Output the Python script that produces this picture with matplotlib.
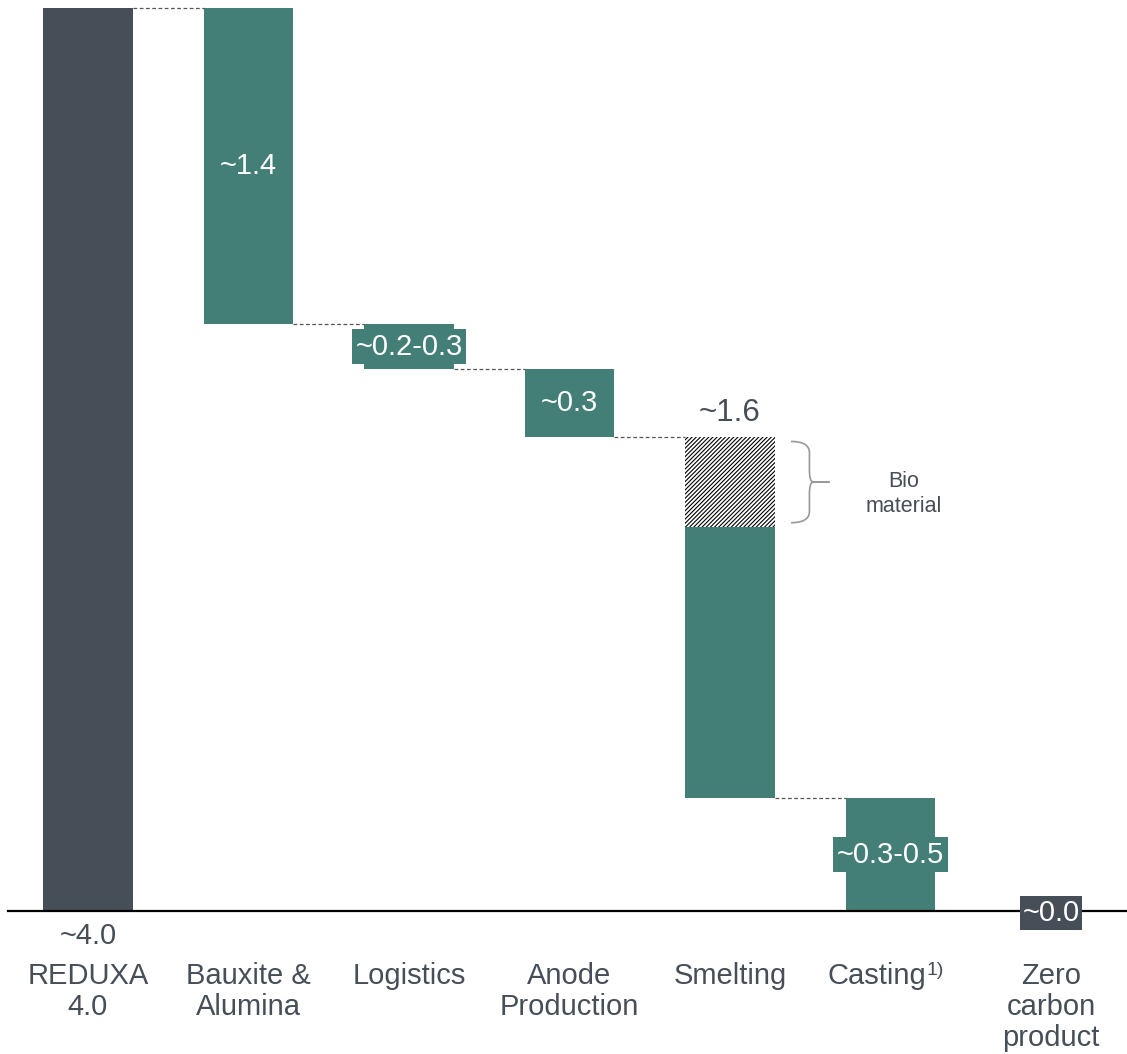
import matplotlib
matplotlib.use("Agg")
import matplotlib.pyplot as plt
from matplotlib.path import Path
from matplotlib.patches import PathPatch

plt.rcParams['font.family'] = ['Liberation Sans', 'DejaVu Sans']
plt.rcParams['hatch.linewidth'] = 0.8

# Waterfall data: start total, reductions per step, end total
categories = ["REDUXA\n4.0", "Bauxite &\nAlumina", "Logistics", "Anode\nProduction",
              "Smelting", "Casting", "Zero\ncarbon\nproduct"]
footnotes = ["", "", "", "", "", "1)", ""]
start_total = 4.0
steps = [1.4, 0.2, 0.3, 1.6, 0.5]
bio_part = 0.4          # hatched share of the smelting step
end_total = 0.0
value_labels = ["~4.0", "~1.4", "~0.2-0.3", "~0.3", "~1.6", "~0.3-0.5", "~0.0"]

DARK = "#464e57"
TEAL = "#437f77"
TEXT = "#464e57"

W, H, DPI = 1127, 1054, 100
fig = plt.figure(figsize=(W / DPI, H / DPI), dpi=DPI)
ax = fig.add_axes([0, 0, 1, 1])
ax.set_axis_off()

step_px = 160.5
x0_px = 88
ax.set_xlim(-x0_px / step_px, (W - x0_px) / step_px)
ppu = 225.75
base_px = 911
ax.set_ylim(-(H - base_px) / ppu, base_px / ppu)

bw = 0.56
fs = 21

# start bar
ax.bar(0, start_total, width=bw, color=DARK, bottom=0)

level = start_total
tops = []
for i, d in enumerate(steps, start=1):
    top = level
    bottom = level - d
    if i == 4:
        solid = d - bio_part
        ax.bar(i, solid, width=bw, bottom=bottom, color=TEAL)
        ax.bar(i, bio_part, width=bw, bottom=bottom + solid, color="white",
               edgecolor="black", hatch="////////", linewidth=0)
    else:
        ax.bar(i, d, width=bw, bottom=bottom, color=TEAL)
    # dashed connector from previous bar to this bar's top
    ax.plot([i - 1 + bw / 2, i - bw / 2], [top, top], ls=(0, (3, 2)),
            color="#555555", lw=0.9)
    tops.append((top, bottom))
    level = bottom

# end bar (zero height) and baseline
ax.bar(6, end_total, width=bw, color=DARK)
ax.axhline(0, xmin=8 / W, xmax=1, color="black", lw=1.6, zorder=3)

ax.text(6, end_total - 0.008, value_labels[6], ha="center", va="center", fontsize=fs,
        color="white", bbox=dict(boxstyle="square,pad=0.1", fc=DARK, ec="none"), zorder=4)

# value labels
ax.text(0, -0.048, value_labels[0], ha="center", va="top", fontsize=fs, color=TEXT)
for i, (top, bottom) in enumerate(tops, start=1):
    mid = (top + bottom) / 2
    if i == 4:
        ax.text(i, top + 0.04, value_labels[i], ha="center", va="bottom",
                fontsize=fs + 1.5, color=TEXT)
    elif i in (2, 5):
        ax.text(i, mid, value_labels[i], ha="center", va="center", fontsize=fs,
                color="white", bbox=dict(boxstyle="square,pad=0.12", fc=TEAL, ec="none"))
    else:
        ax.text(i, mid, value_labels[i], ha="center", va="center", fontsize=fs,
                color="white")

# category labels (with optional footnote marks)
for i, (c, fn) in enumerate(zip(categories, footnotes)):
    shift = 0.085 if fn else 0.0
    t = ax.text(i - shift, -0.225, c, ha="center", va="top", fontsize=fs, color=TEXT,
                linespacing=1.15)
    if fn:
        ax.annotate(fn, xy=(1, 1), xycoords=t, xytext=(0, 0),
                    textcoords="offset points", ha="left", va="top",
                    fontsize=14, color=TEXT)

# brace next to the bio material segment
top4, bot4 = tops[3]
bio_top = top4 - 0.02
bio_bot = top4 - bio_part + 0.02
xl = 4 + bw / 2 + 0.1
xv = xl + 0.115
xr = xl + 0.24
ym = (bio_top + bio_bot) / 2
r = 0.05
verts = [(xl, bio_top), (xv, bio_top), (xv, bio_top - r),
         (xv, ym + r), (xv, ym), (xr - 0.1, ym),
         (xr, ym), (xr - 0.1, ym), (xv, ym), (xv, ym - r),
         (xv, bio_bot + r), (xv, bio_bot), (xl, bio_bot)]
codes = [Path.MOVETO, Path.CURVE3, Path.CURVE3,
         Path.LINETO, Path.CURVE3, Path.CURVE3,
         Path.LINETO, Path.LINETO, Path.CURVE3, Path.CURVE3,
         Path.LINETO, Path.CURVE3, Path.CURVE3]
ax.add_patch(PathPatch(Path(verts, codes), fc="none", ec="#999999", lw=1.2))
ax.text(4 + (903 - 729.5) / step_px, ym - 0.055, "Bio\nmaterial", ha="center", va="center",
        fontsize=15.5, color=TEXT, linespacing=1.25)

fig.savefig("out.png", dpi=DPI)
